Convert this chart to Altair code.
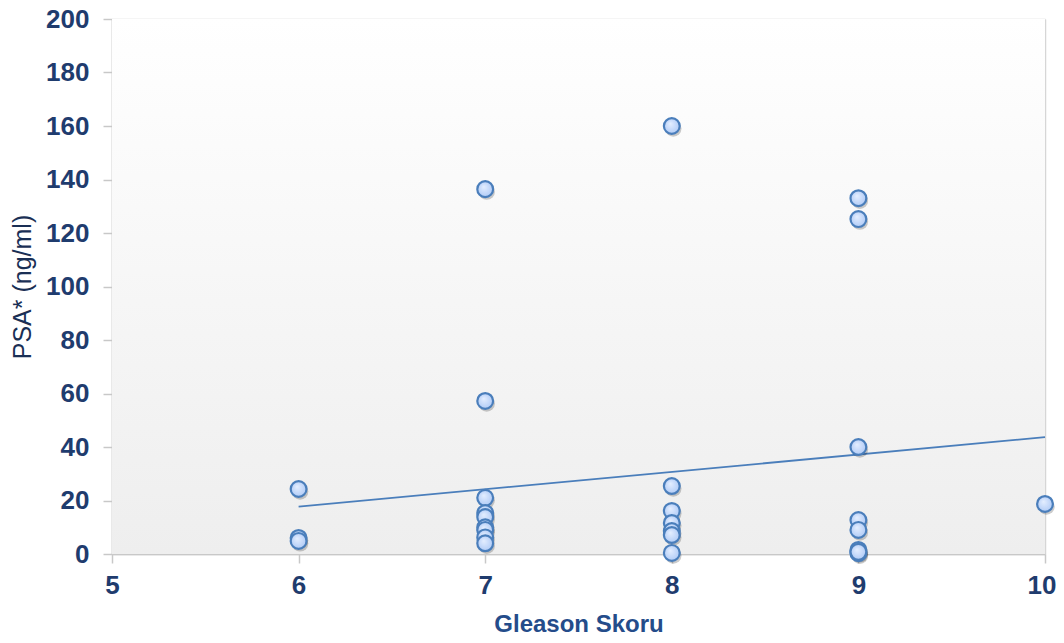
import altair as alt
import pandas as pd

# Data
gleason = [6, 6, 6,
           7, 7, 7, 7, 7, 7, 7, 7, 7,
           8, 8, 8, 8, 8, 8, 8,
           9, 9, 9, 9, 9, 9, 9, 9,
           10]
psa = [24.3, 6.0, 4.9,
       136.4, 57.2, 21.0, 15.3, 13.8, 10.0, 9.0, 6.2, 4.0,
       160.0, 25.4, 16.1, 11.6, 8.6, 7.1, 0.4,
       133.0, 125.2, 40.0, 12.7, 9.0, 1.5, 0.3, 0.8,
       18.7]
trend_x = [6, 10]
trend_y = [17.7, 43.7]

x_ticks = [5, 6, 7, 8, 9, 10]
y_ticks = list(range(0, 201, 20))

pts = pd.DataFrame({"g": gleason, "psa": psa})
trend = pd.DataFrame({"g": trend_x, "psa": trend_y})

W, H = 933, 535
LABEL = "#1f3c6e"

xs = alt.Scale(domain=[5, 10], nice=False, zero=False)
ys = alt.Scale(domain=[0, 200], nice=False)

bg = alt.Chart(pd.DataFrame({"a": [0]})).mark_rect(
    color=alt.Gradient(
        gradient="linear", x1=0, y1=0, x2=0, y2=1,
        stops=[alt.GradientStop(color="#ffffff", offset=0),
               alt.GradientStop(color="#eeeeee", offset=1)]
    )
).encode(x=alt.value(0), x2=alt.value(W), y=alt.value(0), y2=alt.value(H))

xaxis = alt.Axis(values=x_ticks, title="Gleason Skoru", grid=True, format="d",
                 labelFlush=False,
                 labelAlign={"condition": {"test": "datum.value == 10", "value": "right"},
                             "value": "center"},
                 labelOffset={"condition": {"test": "datum.value == 10", "value": 11},
                              "value": 0},
                 gridColor="#d6d6d6", gridWidth=1.5,
                 domainColor="#c8c8c8", domainWidth=1.5,
                 tickColor="#c8c8c8", tickSize=9, tickWidth=1.5,
                 labelFont="Liberation Sans", labelFontSize=26, labelFontWeight="bold",
                 labelColor=LABEL, labelPadding=9,
                 titleFont="Liberation Sans", titleFontSize=24, titleFontWeight="bold",
                 titleColor="#244c8a", titlePadding=14)
yaxis = alt.Axis(values=y_ticks, title="PSA* (ng/ml)", grid=True, format="d",
                 labelFlush=False,
                 gridColor="#d6d6d6", gridWidth=1.5,
                 domainColor="#c8c8c8", domainWidth=1.5,
                 tickColor="#c8c8c8", tickSize=9, tickWidth=1.5,
                 labelFont="Liberation Sans", labelFontSize=26, labelFontWeight="bold",
                 labelColor=LABEL, labelPadding=14,
                 titleFont="Liberation Sans", titleFontSize=25, titleFontWeight="normal",
                 titleColor="#1a2f55", titlePadding=10)

axes = alt.Chart(pts).mark_point(opacity=0).encode(
    x=alt.X("g:Q", scale=xs, axis=xaxis),
    y=alt.Y("psa:Q", scale=ys, axis=yaxis),
)

line = alt.Chart(trend).mark_line(color="#4a7ebb", strokeWidth=1.8).encode(
    x=alt.X("g:Q", scale=xs), y=alt.Y("psa:Q", scale=ys))

shadow = alt.Chart(pts).mark_circle(size=270, color="#000000", opacity=0.2,
                                    xOffset=1.5, yOffset=2.5).encode(
    x=alt.X("g:Q", scale=xs), y=alt.Y("psa:Q", scale=ys))

points = alt.Chart(pts).mark_point(
    filled=True, size=250, shape="circle",
    fill=alt.Gradient(gradient="radial", x1=0.4, y1=0.35, r1=0, x2=0.5, y2=0.5, r2=0.6,
                      stops=[alt.GradientStop(color="#e4eeff", offset=0),
                             alt.GradientStop(color="#a9c6f5", offset=1)]),
    stroke="#4a7ebb", strokeWidth=2.2, opacity=1, fillOpacity=1
).encode(x=alt.X("g:Q", scale=xs), y=alt.Y("psa:Q", scale=ys))

chart = alt.layer(bg, axes, line, shadow, points).properties(
    width=W, height=H,
    autosize=alt.AutoSizeParams(type="none"),
    padding={"left": 104, "top": 11, "right": 11, "bottom": 85},
).configure_view(stroke=None)

chart.save("out.html", embed_options={"renderer": "svg", "actions": False})
